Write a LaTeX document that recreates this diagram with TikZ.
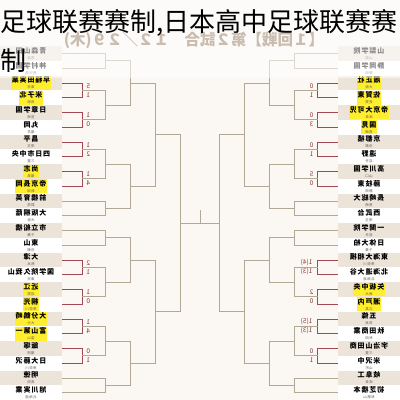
\documentclass[tikz,border=0pt]{standalone}
\usepackage{fontspec}
\usetikzlibrary{calc}
\newfontfamily\cjkfont{Noto Sans CJK SC}
\newfontfamily\jpfont{Noto Sans CJK JP}
\newfontfamily\jpname[LetterSpace=12]{Noto Sans CJK JP}
\definecolor{bgcream}{RGB}{251,248,243}
\definecolor{bandbg}{RGB}{236,227,217}
\definecolor{hiyel}{RGB}{255,238,45}
\definecolor{linegray}{RGB}{178,168,150}
\definecolor{linered}{RGB}{165,72,86}
\definecolor{scorecol}{RGB}{140,55,55}
\definecolor{subcol}{RGB}{105,98,92}
\definecolor{hdrcol}{RGB}{202,188,174}
\newcommand{\teamsub}[1]{{\fontsize{3.5}{4}\selectfont\mdseries\color{subcol}#1}}

\tikzset{every picture/.style={line width=0.8pt},
  bandbox/.style={minimum width=62pt, minimum height=14.75pt, inner sep=0pt},
  tname/.style={inner sep=0.8pt, align=center, xscale=-1, font=\jpname\bfseries\fontsize{7}{7}\selectfont},
  score/.style={inner sep=0pt, xscale=-1, text=scorecol, font=\jpfont\fontsize{6.5}{7}\selectfont},
  lineg/.style={draw=linegray},
  liner/.style={draw=linered}}

\begin{document}
\begin{tikzpicture}[x=1pt,y=-1pt]
		\useasboundingbox (0,0) rectangle (400,400);
		\fill[bgcream] (0,0) rectangle (400,400);
		
		%Bands [rows 1..24, both sides]
		\foreach \i in {1,...,24}{
			\pgfmathsetmacro\yy{53.5+14.75*(\i-1)}
			\pgfmathtruncatemacro\od{mod(\i,2)}
			\ifnum\od=1 \def\bandfill{bandbg}\else\def\bandfill{white}\fi
			\node[bandbox, fill=\bandfill] (L\i) at (31,\yy) {};
			\node[bandbox, fill=\bandfill] (R\i) at (369,\yy) {};
		}
		
		% Text Node [left teams]
		\foreach \i/\nm/\pf/\hl in {1/青森山田/青森/none, 2/神村学園/鹿児島/none, 3/早稲田実業/東京/hiyel, 4/米子北/鳥取/hiyel,
			5/日章学園/宮崎/none, 6/丸岡/福井/none, 7/昌平/埼玉/none, 8/四日市中央/三重/none,
			9/尚志/福島/hiyel, 10/帝京長岡/新潟/hiyel, 11/前橋育英/群馬/none, 12/大阪桐蔭/大阪/none,
			13/市立船橋/千葉/none, 14/東山/京都/none, 15/大津/熊本/none, 16/国学院久我山/東京/none,
			17/近江/滋賀/hiyel, 18/桐光/神奈川/hiyel, 19/大分鶴崎/大分/hiyel, 20/富山第一/富山/hiyel,
			21/飯塚/福岡/none, 22/日大藤沢/神奈川/none, 23/明徳/高知/none, 24/旭川実業/北海道/none}{
			\pgfmathsetmacro\yy{53.5+14.75*(\i-1)}
			\node[tname, fill=\hl] (Ln\i) at (31,\yy) {\nm\\[-1pt]\teamsub{\pf}};
		}
		% Text Node [right teams]
		\foreach \i/\nm/\pf/\hl in {1/山梨学院/山梨/none, 2/静岡学園/静岡/none, 3/履正社/大阪/hiyel, 4/佐賀東/佐賀/hiyel,
			5/帝京大可児/岐阜/hiyel, 6/国見/長崎/hiyel, 7/京都橘/京都/none, 8/遠野/岩手/none,
			9/高川学園/山口/none, 10/藤枝東/静岡/none, 11/長崎総大/長崎/none, 12/西武台/埼玉/none,
			13/一関学院/岩手/none, 14/日体大柏/千葉/none, 15/東海大相模/神奈川/none, 16/北海道大谷/北海道/none,
			17/矢板中央/栃木/hiyel, 18/瀬戸内/広島/hiyel, 19/五條/奈良/none, 20/秋田商業/秋田/none,
			21/宇治山田商/三重/none, 22/米沢中/山形/none, 23/岐阜工/岐阜/none, 24/初芝橋本/和歌山/none}{
			\pgfmathsetmacro\yy{53.5+14.75*(\i-1)}
			\node[tname, fill=\hl] (Rn\i) at (369,\yy) {\nm\\[-1pt]\teamsub{\pf}};
		}
		
		%First round [played]
		\foreach \t in {3,5,7,9,15,17,19,21}{
			\pgfmathtruncatemacro\b{\t+1}
			\draw[liner] (L\t.east) -- ++(20,0) |- (L\b.east);
			\draw[liner] (R\t.west) -- ++(-20,0) |- (R\b.west);
			\coordinate (LW\t) at ($(L\t.east)!.5!(L\b.east)+(20,0)$);
			\coordinate (RW\t) at ($(R\t.west)!.5!(R\b.west)+(-20,0)$);
		}
		%Second round
		\foreach \t/\u/\n in {3/5/B, 7/9/C, 15/17/F, 19/21/G}{
			\draw[lineg] (LW\t) -- ++(23,0) |- (LW\u);
			\draw[lineg] (RW\t) -- ++(-23,0) |- (RW\u);
			\coordinate (Lg\n) at ($(LW\t)!.5!(LW\u)+(23,0)$);
			\coordinate (Rg\n) at ($(RW\t)!.5!(RW\u)+(-23,0)$);
		}
		\foreach \t/\n in {1/A, 11/D, 13/E, 23/H}{
			\pgfmathtruncatemacro\b{\t+1}
			\draw[lineg] (L\t.east) -- ++(43,0) |- (L\b.east);
			\draw[lineg] (R\t.west) -- ++(-43,0) |- (R\b.west);
			\coordinate (Lg\n) at ($(L\t.east)!.5!(L\b.east)+(43,0)$);
			\coordinate (Rg\n) at ($(R\t.west)!.5!(R\b.west)+(-43,0)$);
		}
		%Third round, quarter and semi finals
		\foreach \p/\q/\n in {A/B/AB, C/D/CD, E/F/EF, G/H/GH, AB/CD/AD, EF/GH/EH, AD/EH/SF}{
			\draw[lineg] (Lg\p) -- ++(25,0) |- (Lg\q);
			\draw[lineg] (Rg\p) -- ++(-25,0) |- (Rg\q);
			\coordinate (Lg\n) at ($(Lg\p)!.5!(Lg\q)+(25,0)$);
			\coordinate (Rg\n) at ($(Rg\p)!.5!(Rg\q)+(-25,0)$);
		}
		%Final
		\draw[lineg] (LgSF) -- (RgSF);
		\coordinate (fin) at ($(LgSF)!.5!(RgSF)$);
		\draw[lineg] (fin) -- ++(0,-13);
		
		% Text Node [scores]
		\foreach \t/\sa/\sb in {3/5/1, 5/1/0, 7/1/2, 9/1/4, 15/2/1, 17/1/0, 19/1/4, 21/0/1}{
			\node[score] (Lsa\t) at ($(LW\t)+(6,-4.5)$) {\sa};
			\node[score] (Lsb\t) at ($(LW\t)+(6,4.5)$) {\sb};
		}
		\foreach \t/\sa/\sb/\dx in {3/0/1/6, 5/0/3/6, 7/0/1/6, 9/5/0/6, 15/{1(4)}/{1(3)}/11, 17/2/0/6, 19/{1(5)}/{1(3)}/11, 21/0/1/6}{
			\node[score] (Rsa\t) at ($(RW\t)+(-\dx,-4.5)$) {\sa};
			\node[score] (Rsb\t) at ($(RW\t)+(-\dx,4.5)$) {\sb};
		}
		
		%Faded top
		\fill[white, opacity=.55] (0,0) rectangle (400,78);
		% Text Node [header]
		\node[xscale=-1, inner sep=0pt, text=hdrcol, font=\jpfont\bfseries\fontsize{15.5}{15.5}\selectfont] (hdr) at (194,40) {【１回戦】第２試合　１２／２９(木)};
		% Text Node [title]
		\node[anchor=base west, inner sep=0pt, font=\cjkfont\fontsize{26}{26}\selectfont] (title) at (0,31) {足球联赛赛制,日本高中足球联赛赛};
		\node[anchor=base west, inner sep=0pt, font=\cjkfont\fontsize{26}{26}\selectfont] (title2) at (0,70) {制};
\end{tikzpicture}
\end{document}
